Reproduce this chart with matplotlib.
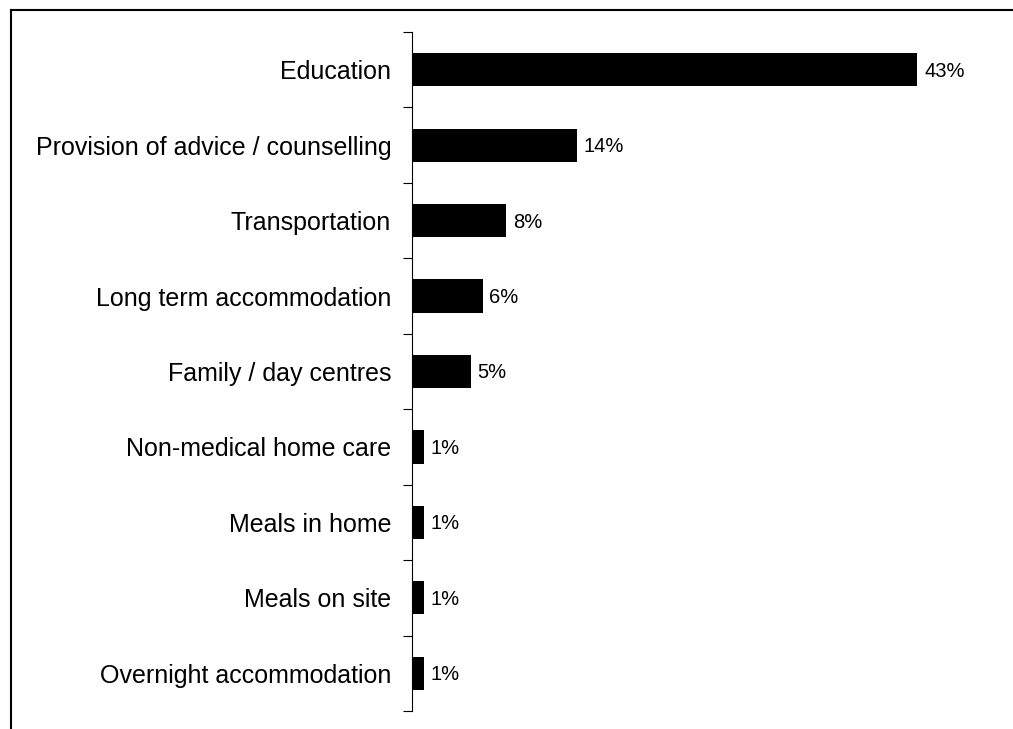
import numpy as np
import matplotlib.pyplot as plt
from matplotlib.lines import Line2D

# Services offered, share of respondents (%)
services = ['Education', 'Provision of advice / counselling', 'Transportation',
            'Long term accommodation', 'Family / day centres', 'Non-medical home care',
            'Meals in home', 'Meals on site', 'Overnight accommodation']
shares = [43, 14, 8, 6, 5, 1, 1, 1, 1]

plt.rcParams['font.family'] = ['Liberation Sans', 'DejaVu Sans']

fig = plt.figure(figsize=(10.13, 7.29), dpi=100)
ax = fig.add_axes([412 / 1013, 1 - 711 / 729, 587.5 / 1013, 679 / 729])

y = np.arange(len(services))
bars = ax.barh(y, shares, height=0.44, color='black')

for bar, v in zip(bars, shares):
    ax.annotate('%d%%' % v, (bar.get_width(), bar.get_y() + bar.get_height() / 2),
                xytext=(5, -1), textcoords='offset points',
                ha='left', va='center', fontsize=14.5)

ax.set_xlim(0, 50)
ax.set_ylim(len(services) - 0.5, -0.5)

# category labels at bar centres, tick marks between categories
ax.set_yticks(y)
ax.set_yticklabels(services, fontsize=18)
ax.set_yticks(np.arange(-0.5, len(services)), minor=True)
ax.tick_params(axis='y', which='major', length=0, pad=15)
ax.tick_params(axis='y', which='minor', length=6.5, width=0.8, direction='out')
ax.set_xticks([])

for s in ['top', 'right', 'bottom']:
    ax.spines[s].set_visible(False)
ax.spines['left'].set_linewidth(0.8)

# outer border
fig.add_artist(Line2D([11 / 1013, 1], [1 - 10 / 729, 1 - 10 / 729],
                      transform=fig.transFigure, color='black', lw=1.5))
fig.add_artist(Line2D([11 / 1013, 11 / 1013], [0, 1 - 10 / 729],
                      transform=fig.transFigure, color='black', lw=1.5))

fig.savefig('out.png', dpi=100)
